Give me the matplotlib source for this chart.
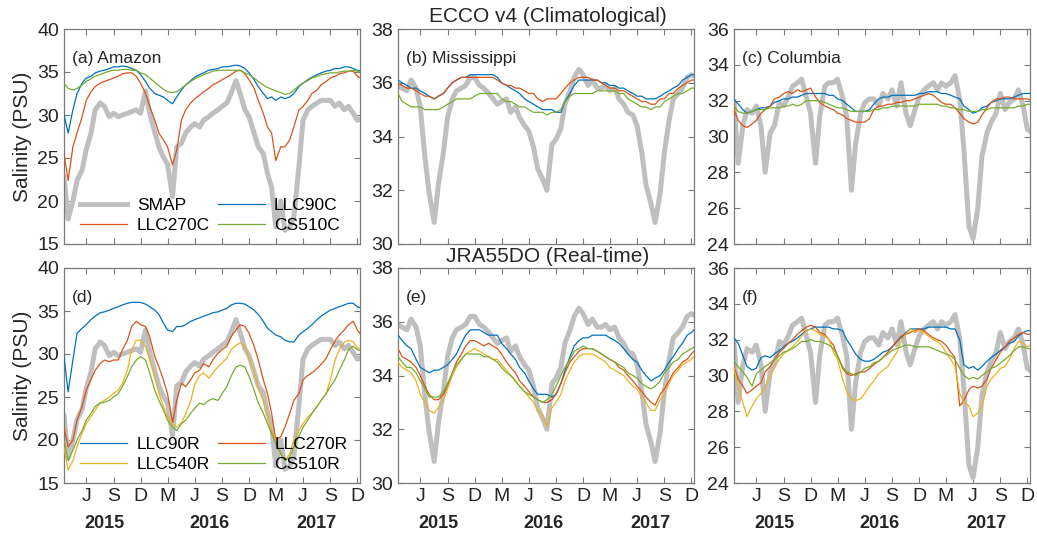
import numpy as np
import pandas as pd
import matplotlib
matplotlib.use("Agg")
import matplotlib.pyplot as plt
from matplotlib.transforms import blended_transform_factory

plt.rcParams['font.family'] = ['Liberation Sans', 'DejaVu Sans']

# Semi-monthly sampling dates (1st and 15th of each month), Apr 2015 - Jan 2018
dates = pd.date_range('2015-04-01', '2018-01-01', freq='SMS')

# ---------------- SMAP observations ----------------
smap_amazon = [22.8, 17.9, 20, 22.4, 23.6, 26, 27.9, 30.6, 31.4, 31, 29.8, 30.2, 29.8, 30, 30.2, 30.4,
               30.6, 30.2, 32.8, 30.2, 28, 26.3, 25.1, 24.3, 20.5, 26.3, 26.7, 27.9, 28.6, 29, 28.6, 29.4,
               29.8, 30.2, 30.6, 31, 31.4, 32.5, 34, 32.5, 30.6, 29.8, 27.9, 26.3, 25.5, 23.2, 21.6, 17,
               20, 16.6, 17, 18.1, 24, 29.4, 30.6, 31, 31.4, 31.7, 31.7, 31.7, 31, 31.4, 30.6, 31, 30.2,
               29.4, 29.6]
smap_mississippi = [35.9, 35.8, 35.7, 36.1, 35.8, 35.1, 33.2, 31.9, 30.8, 32.2, 33.4, 34.7, 35.4, 35.7,
                    35.8, 35.9, 36.2, 36.2, 35.9, 35.8, 35.6, 35.4, 35.2, 35.3, 35.4, 34.9, 35.1, 34.7,
                    34.4, 34.2, 33.6, 32.8, 32.4, 32.0, 33.7, 33.9, 34.3, 35.2, 35.7, 36.2, 36.5, 36.3,
                    35.9, 36.1, 35.8, 35.8, 35.9, 35.7, 35.8, 35.4, 35.2, 34.9, 34.8, 34.4, 33.4, 32.2,
                    31.5, 30.8, 31.9, 33.4, 34.6, 35.4, 35.6, 35.8, 36.2, 36.3, 36.2]
smap_columbia = [31.9, 28.5, 30.6, 31.5, 31.3, 31.7, 30.6, 28.0, 30.2, 30.6, 31.9, 31.7, 32.2, 32.8, 33,
                 33.2, 32.2, 31.3, 28.5, 31.1, 32.8, 33, 33, 33.2, 32.2, 31.1, 27.0, 29.6, 31.3, 31.9,
                 32.1, 32.1, 31.7, 32.4, 32.1, 32.6, 31.7, 33, 31.3, 30.6, 31.5, 32.2, 32.6, 32.8, 33,
                 32.6, 33, 32.8, 33, 33.4, 32.1, 29.3, 25.0, 24.3, 26.0, 28.9, 30.2, 30.8, 31.3, 32.4,
                 31.5, 31.9, 32.1, 32.6, 31.7, 30.4, 30.2]

# ---------------- ECCO v4 climatological runs ----------------
llc90c_amazon = [30, 27.9, 30.6, 32.5, 33.7, 34.3, 34.5, 34.9, 35.1, 35.2, 35.4, 35.6, 35.6, 35.7, 35.6,
                 35.4, 35.2, 34.7, 33.9, 33.1, 32.5, 32.3, 32.1, 31.7, 31.3, 32.1, 32.9, 33.5, 34, 34.4,
                 34.7, 34.9, 35.2, 35.3, 35.4, 35.6, 35.6, 35.7, 35.8, 35.7, 35.4, 34.9, 34.1, 33.3, 32.5,
                 31.9, 32.1, 31.7, 32.1, 31.9, 32.1, 32.5, 33.3, 33.7, 34.1, 34.4, 34.7, 34.9, 35.1, 35.2,
                 35.4, 35.4, 35.6, 35.6, 35.4, 35.2, 35.1]
llc270c_amazon = [25.5, 22.4, 26.3, 27.9, 29.8, 31.7, 32.7, 33.3, 33.7, 33.9, 34.1, 34.3, 34.5, 34.8, 34.9,
                  34.9, 34.5, 33.7, 32.5, 31, 29.4, 27.9, 27.1, 26.3, 24.2, 25.9, 29.4, 30.6, 31.4, 31.9,
                  32.3, 32.7, 33.1, 33.5, 33.8, 34.1, 34.4, 34.7, 35.1, 35.2, 34.8, 34.1, 33.1, 31.7, 30.2,
                  28.6, 27.9, 24.7, 26.3, 26.3, 27.1, 28.6, 30.6, 31, 31.7, 32.5, 32.9, 33.5, 33.9, 34.3,
                  34.5, 34.8, 34.9, 35.1, 35.1, 34.5, 34.2]
cs510c_amazon = [33.7, 33.1, 32.9, 33.1, 33.5, 33.9, 34.2, 34.5, 34.7, 34.9, 35.1, 35.2, 35.2, 35.3, 35.3,
                 35.2, 35.2, 34.9, 34.7, 34.3, 33.8, 33.4, 33, 32.7, 32.6, 32.7, 33.1, 33.5, 33.9, 34.2,
                 34.5, 34.7, 34.9, 35.1, 35.2, 35.2, 35.2, 35.2, 35.2, 35.2, 34.9, 34.7, 34.3, 33.9, 33.5,
                 33.2, 33, 32.8, 32.6, 32.4, 32.5, 32.9, 33.4, 33.7, 34, 34.3, 34.5, 34.7, 34.8, 34.9,
                 34.9, 35, 35.1, 35.1, 35.2, 35.1, 35.0]

llc90c_mississippi = [36.1, 36, 35.9, 35.8, 35.8, 35.7, 35.6, 35.5, 35.4, 35.5, 35.6, 35.8, 36, 36.1, 36.2,
                      36.2, 36.3, 36.3, 36.3, 36.3, 36.3, 36.3, 36.2, 36, 35.9, 35.8, 35.7, 35.6, 35.4,
                      35.3, 35.2, 35.1, 35, 35, 35, 34.9, 34.9, 35.3, 35.6, 35.9, 36.1, 36.1, 36.1, 36.1,
                      36.1, 36, 36, 35.9, 35.9, 35.8, 35.8, 35.7, 35.6, 35.5, 35.5, 35.4, 35.4, 35.4, 35.5,
                      35.6, 35.7, 35.8, 35.9, 36.1, 36.2, 36.3, 36.3]
llc270c_mississippi = [36, 35.9, 35.8, 35.8, 35.7, 35.6, 35.5, 35.5, 35.4, 35.5, 35.6, 35.8, 36, 36.1, 36.2,
                       36.2, 36.2, 36.2, 36.2, 36.2, 36.2, 36.2, 36.1, 36, 35.9, 35.9, 35.8, 35.8, 35.7,
                       35.6, 35.6, 35.4, 35.3, 35.4, 35.4, 35.4, 35.6, 35.8, 36, 36.1, 36.2, 36.2, 36.2,
                       36.1, 36.1, 36, 35.9, 35.8, 35.8, 35.7, 35.7, 35.6, 35.5, 35.4, 35.3, 35.3, 35.2,
                       35.2, 35.4, 35.4, 35.6, 35.6, 35.8, 35.9, 36, 36.1, 36.1]
cs510c_mississippi = [35.6, 35.3, 35.2, 35.1, 35.1, 35.1, 35, 35, 35, 35, 35.1, 35.2, 35.3, 35.4, 35.4,
                      35.4, 35.4, 35.5, 35.6, 35.6, 35.6, 35.6, 35.6, 35.4, 35.3, 35.3, 35.2, 35.1, 35.1,
                      35, 34.9, 34.9, 34.9, 34.8, 34.9, 34.9, 35, 35.3, 35.5, 35.6, 35.6, 35.6, 35.6, 35.6,
                      35.7, 35.7, 35.7, 35.7, 35.7, 35.6, 35.6, 35.4, 35.3, 35.2, 35.1, 35.1, 35, 35.1,
                      35.1, 35.3, 35.4, 35.5, 35.6, 35.6, 35.7, 35.8, 35.8]

llc90c_columbia = [32.1, 31.8, 31.5, 31.3, 31.4, 31.5, 31.6, 31.6, 31.7, 31.9, 32, 32.1, 32.1, 32.2, 32.2,
                   32.3, 32.4, 32.4, 32.4, 32.4, 32.4, 32.3, 32.3, 32.1, 32, 31.8, 31.6, 31.4, 31.4, 31.4,
                   31.5, 31.8, 32.1, 32.2, 32.2, 32.3, 32.3, 32.3, 32.3, 32.3, 32.3, 32.4, 32.4, 32.5, 32.5,
                   32.5, 32.4, 32.4, 32.3, 32.2, 32.1, 31.7, 31.5, 31.3, 31.4, 31.6, 31.7, 31.9, 32, 32.1,
                   32.1, 32.1, 32.2, 32.3, 32.4, 32.4, 32.4]
llc270c_columbia = [31.5, 30.9, 30.6, 30.5, 30.7, 30.9, 31.3, 31.5, 31.7, 32.1, 32.2, 32.4, 32.5, 32.4, 32.6,
                    32.5, 32.6, 32.7, 32.2, 31.9, 31.7, 31.6, 31.5, 31.3, 31.2, 31, 30.9, 30.8, 30.8, 30.8,
                    31, 31.5, 31.7, 31.7, 31.8, 31.8, 31.9, 31.9, 32, 32, 32.1, 32.2, 32.3, 32.4, 32.3,
                    32.1, 31.9, 31.8, 31.8, 31.6, 31.3, 31, 30.8, 30.7, 30.8, 31.2, 31.6, 31.9, 32.1, 32.1,
                    32.2, 32.2, 32.1, 32.1, 32.1, 32.1, 32]
cs510c_columbia = [31.7, 31.4, 31.3, 31.3, 31.4, 31.5, 31.5, 31.5, 31.6, 31.6, 31.6, 31.7, 31.7, 31.8, 31.7,
                   31.8, 32, 32, 32, 32, 31.9, 31.8, 31.7, 31.6, 31.6, 31.5, 31.4, 31.4, 31.4, 31.4, 31.4,
                   31.5, 31.5, 31.6, 31.6, 31.7, 31.7, 31.7, 31.7, 31.7, 31.7, 31.8, 31.8, 31.8, 31.8, 31.8,
                   31.7, 31.7, 31.6, 31.6, 31.5, 31.5, 31.4, 31.4, 31.4, 31.5, 31.5, 31.6, 31.6, 31.6, 31.6,
                   31.6, 31.6, 31.7, 31.7, 31.8, 31.8]

# ---------------- JRA55-do real-time runs ----------------
llc90r_amazon = [29.7, 25.6, 29.3, 32.4, 33, 33.4, 34, 34.4, 34.8, 34.9, 35.1, 35.3, 35.5, 35.7, 35.9, 36,
                 36, 36, 35.8, 35.5, 35.1, 34.6, 33.6, 32.8, 32.6, 33.2, 33.2, 33.4, 33.8, 34, 34.2, 34.4,
                 34.6, 34.8, 34.9, 35.1, 35.3, 35.7, 35.9, 35.9, 35.8, 35.5, 35.1, 34.6, 33.8, 33, 32.6,
                 32.2, 32, 31.6, 31.4, 31.4, 32.2, 32.6, 33, 33.4, 34, 34.4, 34.8, 35.1, 35.3, 35.5, 35.7,
                 35.9, 35.9, 35.5, 35.3]
llc270r_amazon = [21.5, 19.2, 20, 22.3, 23.9, 25.8, 27, 28.1, 28.9, 29.3, 29.1, 29.3, 29.3, 30.5, 31.6, 33.2,
                  33.8, 33.4, 33.2, 32, 29.7, 28.5, 27, 25.4, 22.0, 24.6, 26.6, 26.2, 27, 27.8, 28.1, 28.9,
                  28.5, 29.3, 30.1, 30.5, 30.9, 32, 32.8, 33.4, 33.2, 32.4, 30.9, 29.3, 27, 25.4, 23.1, 20,
                  20.4, 21.5, 23.1, 24.6, 25.4, 27.0, 27.5, 27.8, 28.3, 28.8, 29.5, 30.5, 31.5, 32.2, 32.8,
                  33.4, 33.8, 32.8, 32]
llc540r_amazon = [19.2, 16.5, 17.6, 19.2, 20.8, 21.9, 22.7, 23.5, 24.3, 24.6, 25, 25.4, 25.8, 26.6, 28.1,
                  30.5, 31.6, 31.6, 30.9, 29.3, 27.4, 25.4, 23.9, 22.7, 21.9, 21.5, 22, 23, 24.5, 26.5, 27.5,
                  27.8, 27.2, 27.8, 28.5, 29, 29.5, 30.5, 31, 31.3, 30.8, 29.5, 28, 26, 24.5, 23, 21.1, 20,
                  18.4, 17.6, 18.4, 20, 21.1, 21.9, 22.7, 23.1, 23.9, 24.6, 25.4, 27, 29.3, 30.5, 31.4,
                  31.6, 31.4, 30.7, 30.5]
cs510r_amazon = [20, 17.6, 18.8, 20, 21.1, 22.3, 23.1, 23.9, 24.3, 24.4, 24.6, 25, 25.4, 26.2, 27.4, 28.5,
                 29.3, 29.7, 29.3, 27.8, 25.8, 24.6, 23.5, 22.3, 21.5, 21.1, 21.9, 22.3, 23.1, 23.7, 24.3,
                 24.1, 24.6, 24.8, 24.6, 25.4, 26.2, 27.4, 28.5, 28.7, 28.5, 27.4, 25.8, 24.3, 23.1, 21.9,
                 20.8, 19.6, 18.4, 17.6, 18, 19.2, 20.4, 21.5, 22.3, 23.1, 23.9, 24.6, 25.4, 26.2, 27,
                 28.1, 29.3, 30.5, 30.9, 30.5, 30.3]

llc90r_mississippi = [35.5, 35.3, 35.1, 35, 34.6, 34.3, 34.2, 34.1, 34.2, 34.2, 34.3, 34.4, 34.6, 34.8, 35.2,
                      35.5, 35.7, 35.7, 35.7, 35.6, 35.5, 35.5, 35.5, 35.2, 35, 34.8, 34.6, 34.3, 34.1,
                      33.8, 33.5, 33.3, 33.3, 33.3, 33.2, 33.3, 33.7, 34.2, 34.7, 35.1, 35.3, 35.4, 35.4,
                      35.5, 35.5, 35.5, 35.5, 35.4, 35.3, 35.2, 35, 34.8, 34.6, 34.5, 34.2, 34, 33.8, 33.9,
                      34, 34.2, 34.5, 34.7, 35, 35.2, 35.5, 35.6, 35.8]
llc270r_mississippi = [35, 34.7, 34.6, 34.5, 34.3, 34, 33.6, 33.3, 33.1, 33.1, 33.3, 33.6, 34.1, 34.5, 34.8,
                       35.1, 35.3, 35.3, 35.2, 35.1, 35.2, 35.1, 35, 34.8, 34.5, 34.3, 34.1, 33.8, 33.6,
                       33.4, 33.2, 33.1, 33, 33, 33.1, 33.3, 33.7, 34.1, 34.5, 34.7, 34.9, 35, 35, 35, 34.9,
                       34.8, 34.7, 34.6, 34.5, 34.3, 34.2, 34, 33.8, 33.6, 33.4, 33.2, 33.0, 32.9, 33.3,
                       33.5, 33.8, 34.1, 34.3, 34.5, 34.6, 34.8, 35]
llc540r_mississippi = [34.5, 34.3, 34.2, 34.1, 33.8, 33.3, 33, 32.7, 32.6, 32.8, 33.1, 33.5, 34, 34.3, 34.6,
                       34.8, 34.9, 35, 34.9, 34.8, 34.7, 34.6, 34.6, 34.4, 34.2, 34, 33.8, 33.6, 33.4, 33.2,
                       33, 32.7, 32.5, 32.1, 32.8, 33, 33.3, 33.8, 34.2, 34.5, 34.7, 34.8, 34.8, 34.8, 34.7,
                       34.6, 34.5, 34.3, 34.2, 34.1, 34, 33.8, 33.6, 33.5, 33.2, 33, 32.7, 32.7, 33.1, 33.3,
                       33.7, 34, 34.2, 34.4, 34.5, 34.6, 34.8]
cs510r_mississippi = [34.7, 34.5, 34.3, 34.3, 34.1, 33.8, 33.5, 33.2, 33.2, 33.2, 33.4, 33.7, 34.1, 34.4,
                      34.6, 34.8, 34.8, 34.8, 34.8, 34.7, 34.7, 34.6, 34.5, 34.3, 34.1, 34, 33.8, 33.6, 33.4,
                      33.3, 33.2, 33.1, 33, 33.1, 33.3, 33.6, 34, 34.3, 34.6, 34.9, 35, 35.1, 35, 35, 34.9,
                      34.8, 34.7, 34.6, 34.5, 34.4, 34.3, 34.1, 34, 33.9, 33.7, 33.6, 33.5, 33.6, 33.8,
                      34.1, 34.3, 34.5, 34.6, 34.8, 34.9, 35, 35.1]

llc90r_columbia = [32.1, 31.8, 31.1, 30.5, 30.3, 30.4, 31, 31.1, 31, 31.2, 31.4, 31.6, 31.8, 31.9, 32.1, 32.3,
                   32.5, 32.6, 32.7, 32.7, 32.7, 32.7, 32.6, 32.6, 32.5, 32, 31.6, 31.2, 30.9, 30.8, 30.8,
                   30.9, 31.1, 31.3, 31.4, 31.6, 31.9, 32.1, 32.4, 32.6, 32.6, 32.6, 32.6, 32.7, 32.7, 32.7,
                   32.7, 32.7, 32.6, 32.6, 32.0, 30.6, 30.4, 30.5, 30.3, 30.5, 30.8, 31, 31.2, 31.4, 31.6,
                   31.8, 31.9, 32.2, 32.4, 32.5, 32.5]
llc270r_columbia = [30.5, 29.8, 29.4, 29, 29.2, 29.4, 29.6, 30.2, 30.5, 30.9, 31.3, 31.5, 31.8, 32, 32.3,
                    32.5, 32.7, 32.8, 32.7, 32.4, 32.3, 32, 31.7, 31.1, 30.4, 30.1, 30, 30.1, 30.2, 30.2,
                    30.4, 30.6, 30.8, 31, 31.3, 31.6, 31.9, 32.2, 32.3, 32.4, 32.5, 32.6, 32.5, 32.3, 32.1,
                    32, 31.9, 31.7, 31.3, 31.0, 28.3, 28.6, 29.2, 29.4, 29.3, 29.4, 29.8, 30.4, 30.9, 31.3,
                    31.6, 31.9, 32.1, 32.3, 32.4, 32.3, 32.3]
llc540r_columbia = [30.4, 29.4, 28.5, 27.7, 28.3, 28.7, 29, 29.4, 30, 30.5, 30.9, 31.2, 31.4, 31.6, 31.9,
                    32.2, 32.5, 32.6, 32.5, 32.3, 32.2, 32, 31.3, 30.9, 29.8, 29.1, 28.7, 28.6, 28.7, 29,
                    29.4, 29.7, 30.1, 30.3, 30.5, 30.9, 31.3, 31.9, 32.3, 32.6, 32.4, 32.5, 32.4, 32.2, 32,
                    31.9, 31.7, 31.3, 30.9, 30.5, 29, 28.5, 28.3, 27.7, 27.9, 28.3, 29.4, 29.8, 30.1, 30.4,
                    30.5, 30.9, 31.5, 31.9, 31.8, 31.6, 31.7]
cs510r_columbia = [30.8, 30.5, 30.2, 29.9, 29.4, 30.1, 30.3, 30.5, 30.7, 30.9, 31.1, 31.3, 31.4, 31.5, 31.7,
                   31.9, 31.9, 32, 31.9, 31.9, 31.8, 31.7, 31.5, 31.1, 30.5, 30.2, 30.1, 30, 30.2, 30.4,
                   30.5, 30.7, 30.8, 31, 31.2, 31.4, 31.5, 31.6, 31.7, 31.7, 31.6, 31.6, 31.6, 31.6, 31.5,
                   31.4, 31.3, 31.2, 31.1, 30.9, 30.4, 30, 29.8, 29.9, 29.8, 30, 30.2, 30.4, 30.5, 30.7,
                   30.9, 31.1, 31.4, 31.6, 31.6, 31.5, 31.5]

# ---------------- styling ----------------
C_SMAP = '#bfbfbf'
C_BLUE = '#0072BD'
C_RED = '#D95319'
C_YEL = '#EDB120'
C_GRN = '#77AC30'

month_ticks = ['J', 'S', 'D', 'M', 'J', 'S', 'D', 'M', 'J', 'S', 'D']
year_labels = ['2015', '2016', '2017']
year_label_dates = ['2015-08-15', '2016-08-05', '2017-07-30']

ylims = [(15, 40), (30, 38), (24, 36)]
yticks = [np.arange(15, 41, 5), np.arange(30, 39, 2), np.arange(24, 37, 2)]

panels_top = [
    ('(a) Amazon', smap_amazon, [('LLC90C', llc90c_amazon, C_BLUE), ('LLC270C', llc270c_amazon, C_RED),
                                 ('CS510C', cs510c_amazon, C_GRN)]),
    ('(b) Mississippi', smap_mississippi, [('LLC90C', llc90c_mississippi, C_BLUE),
                                           ('LLC270C', llc270c_mississippi, C_RED),
                                           ('CS510C', cs510c_mississippi, C_GRN)]),
    ('(c) Columbia', smap_columbia, [('LLC90C', llc90c_columbia, C_BLUE), ('LLC270C', llc270c_columbia, C_RED),
                                     ('CS510C', cs510c_columbia, C_GRN)]),
]
panels_bot = [
    ('(d)', smap_amazon, [('LLC90R', llc90r_amazon, C_BLUE), ('LLC270R', llc270r_amazon, C_RED),
                          ('LLC540R', llc540r_amazon, C_YEL), ('CS510R', cs510r_amazon, C_GRN)]),
    ('(e)', smap_mississippi, [('LLC90R', llc90r_mississippi, C_BLUE), ('LLC270R', llc270r_mississippi, C_RED),
                               ('LLC540R', llc540r_mississippi, C_YEL), ('CS510R', cs510r_mississippi, C_GRN)]),
    ('(f)', smap_columbia, [('LLC90R', llc90r_columbia, C_BLUE), ('LLC270R', llc270r_columbia, C_RED),
                            ('LLC540R', llc540r_columbia, C_YEL), ('CS510R', cs510r_columbia, C_GRN)]),
]

W, H = 1037, 534
fig = plt.figure(figsize=(W / 100, H / 100), dpi=100)
lefts = [64, 398, 734]
tops = [29, 268]
aw, ah = 296, 215

xmin, xmax = pd.Timestamp('2015-04-01'), pd.Timestamp('2017-12-24')
# quarterly ticks on the 15th: Jun, Sep, Dec, Mar ...
tick_dates = pd.date_range('2015-06-01', '2017-12-01', freq='3MS') + pd.Timedelta(days=14)


def style_axis(ax, col, bottom_row):
    ax.set_xlim(xmin, xmax)
    ax.set_ylim(*ylims[col])
    ax.set_yticks(yticks[col])
    ax.set_xticks(tick_dates)
    for sp in ax.spines.values():
        sp.set_color('#7a7a7a')
        sp.set_linewidth(0.9)
    ax.tick_params(direction='in', length=4, width=0.8, color='#7a7a7a', top=True, right=True,
                   labelsize=14, labelcolor='#262626', pad=3.5)
    if bottom_row:
        ax.set_xticklabels(month_ticks)
        tr = blended_transform_factory(ax.transData, ax.transAxes)
        for lab, d in zip(year_labels, year_label_dates):
            ax.text(pd.Timestamp(d), -0.19, lab, transform=tr, ha='center', va='center',
                    fontsize=13, fontweight='bold', color='#262626')
    else:
        ax.set_xticklabels([])
    if col == 0:
        ax.set_ylabel('Salinity (PSU)', fontsize=15, color='#262626')
        ax.yaxis.set_label_coords(-0.108, 0.5)


for r, panels in enumerate([panels_top, panels_bot]):
    for c, (label, smap, models) in enumerate(panels):
        ax = fig.add_axes([lefts[c] / W, 1 - (tops[r] + ah) / H, aw / W, ah / H])
        hs = {}
        hs['SMAP'], = ax.plot(dates, smap, color=C_SMAP, lw=3.6, solid_joinstyle='round', zorder=2)
        for name, vals, colr in models:
            hs[name], = ax.plot(dates[:len(vals)], vals, color=colr, lw=0.9, zorder=3)
        style_axis(ax, c, r == 1)
        ax.text(0.027, 0.865, label, transform=ax.transAxes, fontsize=12.5, color='#262626',
                ha='left', va='center')
        if r == 0 and c == 0:
            order = ['SMAP', 'LLC270C', 'LLC90C', 'CS510C']
        elif r == 1 and c == 0:
            order = ['LLC90R', 'LLC540R', 'LLC270R', 'CS510R']
        else:
            order = None
        if order:
            ax.legend([hs[k] for k in order], order, ncol=2, loc='lower left',
                      bbox_to_anchor=(0.055, 0.05), frameon=False, fontsize=12.5,
                      handlelength=2.7, handletextpad=0.55, columnspacing=0.45,
                      labelspacing=0.3, borderpad=0, borderaxespad=0)

fig.text(548 / W, 1 - 17 / H, 'ECCO v4 (Climatological)', ha='center', va='center', fontsize=15,
         color='#262626')
fig.text(548 / W, 1 - 256 / H, 'JRA55DO (Real-time)', ha='center', va='center', fontsize=15,
         color='#262626')

fig.savefig('out.png', dpi=100)
